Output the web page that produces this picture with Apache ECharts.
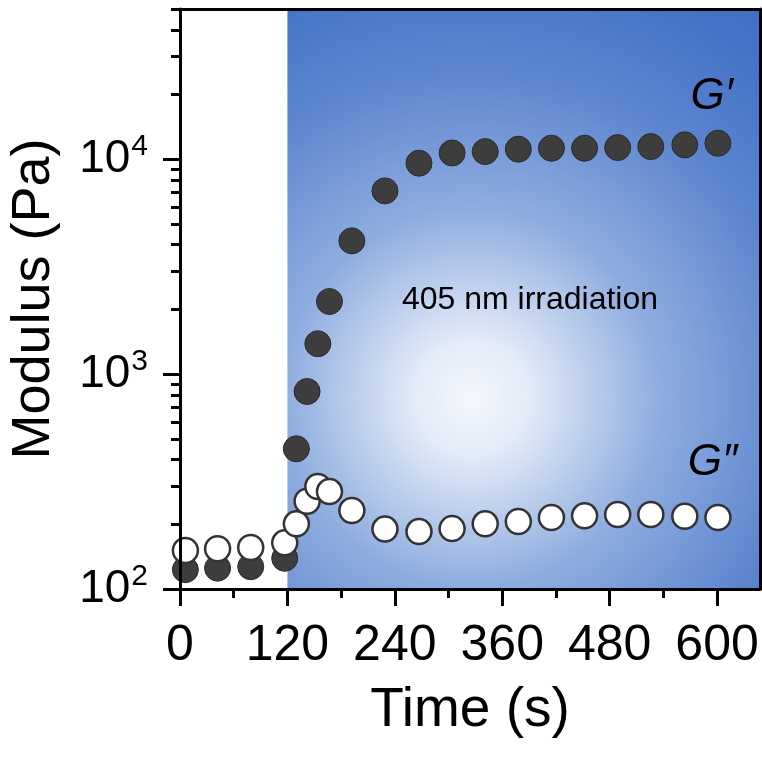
<!DOCTYPE html>
<html><head><meta charset="utf-8">
<style>html,body{margin:0;padding:0;background:#fff}#c{width:762px;height:758px}</style>
<script src="https://cdn.jsdelivr.net/npm/echarts@6/dist/echarts.min.js"></script>
</head><body><div id="c"></div>
<script>
// ---- data ----
const times   = [6, 42, 79, 117, 130, 142, 154, 167, 192, 229, 267, 304, 341, 378, 415, 452, 489, 526, 564, 601];
const gPrime  = [123, 125, 127, 139, 449, 830, 1384, 2176, 4168, 7122, 9581, 10690, 10850, 11130, 11250, 11250, 11330, 11450, 11660, 11870];
const gDouble = [151, 154, 156, 164, 201, 256, 300, 284, 232, 190, 185, 191, 201, 206, 215, 219, 222, 222, 218, 215];
const xMajorTicks = [0, 120, 240, 360, 480, 600];
const xMinorTicks = [60, 180, 300, 420, 540];
const yMajorTicks = [100, 1000, 10000];
const yMinorTicks = [200, 300, 400, 500, 600, 700, 800, 900, 2000, 3000, 4000, 5000, 6000, 7000, 8000, 9000, 20000, 30000, 40000, 50000];
const xMin = 0, xMax = 648, yMin = 100, yMax = 50000;
const irradiationStart = 120;
const labelGp = {t: 594, v: 19500, text: 'G\u2032'};
const labelGpp = {t: 595, v: 386, text: 'G\u2033'};
const labelIrr = {t: 391, v: 2216, text: '405 nm irradiation'};

const FONT = '"Liberation Sans", Arial, sans-serif';
const chart = echarts.init(document.getElementById('c'));
const axisLineStyle = {color: '#000', width: 3};
const hiddenValueAxis = (extra) => Object.assign({
  min: xMin, max: xMax, type: 'value', z: 10,
  axisLine: {show: false, onZero: false}, axisTick: {show: false}, axisLabel: {show: false}, splitLine: {show: false}
}, extra);
const blueGradient = new echarts.graphic.RadialGradient(0.39, 0.67, 1.0, [
  {offset: 0, color: '#f4f7fd'},
  {offset: 0.12, color: '#e3ebf8'},
  {offset: 0.4, color: '#8eacdf'},
  {offset: 0.7, color: '#5c85cf'},
  {offset: 0.92, color: '#4673c7'},
  {offset: 1, color: '#4370c5'}
]);
const textPoint = (p, style) => ({
  coord: [p.t, p.v], symbol: 'rect', symbolSize: 1,
  itemStyle: {color: 'rgba(0,0,0,0)', borderWidth: 0},
  label: Object.assign({show: true, position: 'inside', formatter: p.text, color: '#000', fontFamily: FONT}, style)
});

chart.setOption({
  animation: false,
  grid: {left: 180, top: 9, right: 2, bottom: 169, outerBoundsMode: 'none', containLabel: false},
  xAxis: [
    {
      type: 'value', min: xMin, max: xMax, position: 'bottom', z: 10,
      axisLine: {onZero: false, lineStyle: axisLineStyle},
      axisTick: {customValues: xMajorTicks, length: 17, lineStyle: {color: '#000', width: 3}},
      axisLabel: {customValues: xMajorTicks, margin: 32, fontSize: 50, color: '#000', fontFamily: FONT},
      splitLine: {show: false},
      name: 'Time (s)', nameLocation: 'middle', nameGap: 94,
      nameTextStyle: {fontSize: 55, color: '#000', fontFamily: FONT}
    },
    hiddenValueAxis({position: 'bottom', axisTick: {customValues: xMinorTicks, length: 9, lineStyle: {color: '#000', width: 3}}}),
    hiddenValueAxis({position: 'top', axisLine: {show: true, onZero: false, lineStyle: axisLineStyle}})
  ],
  yAxis: [
    {
      type: 'log', logBase: 10, min: yMin, max: yMax, position: 'left', z: 10,
      axisLine: {onZero: false, lineStyle: axisLineStyle},
      axisTick: {customValues: yMajorTicks, length: 17, lineStyle: {color: '#000', width: 3}},
      axisLabel: {
        customValues: yMajorTicks, margin: 32, fontSize: 46, color: '#000', fontFamily: FONT,
        formatter: v => '{b|10}{s|' + Math.round(Math.log10(v)) + '}',
        rich: {
          b: {fontSize: 46, fontFamily: FONT, color: '#000', lineHeight: 54},
          s: {fontSize: 30, fontFamily: FONT, color: '#000', verticalAlign: 'top', lineHeight: 30, padding: [0, 0, 0, 1]}
        }
      },
      splitLine: {show: false},
      name: 'Modulus (Pa)', nameLocation: 'middle', nameGap: 119,
      nameTextStyle: {fontSize: 54, color: '#000', fontFamily: FONT}
    },
    {
      type: 'log', logBase: 10, min: yMin, max: yMax, position: 'left', z: 10,
      axisLine: {show: false, onZero: false},
      axisTick: {customValues: yMinorTicks, length: 9, lineStyle: {color: '#000', width: 3}},
      axisLabel: {show: false}, splitLine: {show: false}
    },
    {
      type: 'log', logBase: 10, min: yMin, max: yMax, position: 'right', z: 10,
      axisLine: {show: true, onZero: false, lineStyle: axisLineStyle},
      axisTick: {show: false}, axisLabel: {show: false}, splitLine: {show: false}
    }
  ],
  series: [
    {
      type: 'scatter', name: 'G\u2032', xAxisIndex: 0, yAxisIndex: 0,
      data: times.map((t, i) => [t, gPrime[i]]),
      symbolSize: 26, z: 3,
      itemStyle: {color: '#3d3d3d', borderColor: '#2a2a2a', borderWidth: 1, opacity: 1},
      markArea: {
        silent: true,
        itemStyle: {color: blueGradient, opacity: 1, borderWidth: 0},
        data: [[{xAxis: irradiationStart}, {xAxis: xMax}]]
      },
      markPoint: {
        silent: true,
        data: [
          textPoint(labelGp, {fontSize: 44, fontStyle: 'italic'}),
          textPoint(labelIrr, {fontSize: 32})
        ]
      }
    },
    {
      type: 'scatter', name: 'G\u2033', xAxisIndex: 0, yAxisIndex: 0,
      data: times.map((t, i) => [t, gDouble[i]]),
      symbolSize: 25, z: 4,
      itemStyle: {color: '#ffffff', borderColor: '#333333', borderWidth: 2.5, opacity: 1},
      markPoint: {
        silent: true,
        data: [textPoint(labelGpp, {fontSize: 44, fontStyle: 'italic'})]
      }
    }
  ]
});
</script>
</body></html>
